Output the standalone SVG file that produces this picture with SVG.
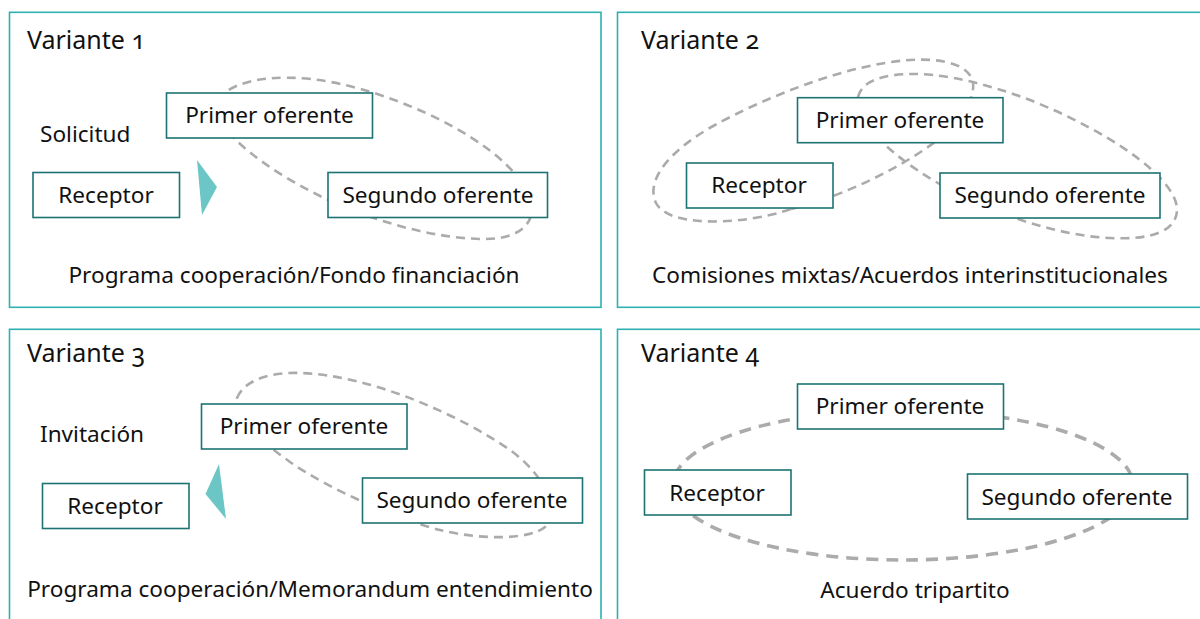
<svg xmlns="http://www.w3.org/2000/svg" width="1200" height="619" viewBox="0 0 1200 619">
<style>
.panel{fill:#fff;stroke:#2fb0b1;stroke-width:1.6}
.node{fill:#fff;stroke:#1d7373;stroke-width:1.6}
.t{font-family:"Noto Sans","Liberation Sans",sans-serif;font-size:22.6px;fill:#111}
.c{text-anchor:middle}
.h{font-size:25px;font-variant-numeric:oldstyle-nums;font-feature-settings:"onum"}
.d{fill:none;stroke:#ababab;stroke-width:2.6;stroke-dasharray:9 6}
.d4{fill:none;stroke:#ababab;stroke-width:3.6;stroke-dasharray:12 8}
.tri{fill:#6cc6c6}
</style>
<rect width="1200" height="619" fill="#fff"/>
<g id="panels">
<rect class="panel" x="9.5" y="12.3" width="591.5" height="295"/>
<rect class="panel" x="617.5" y="12.3" width="600" height="295"/>
<rect class="panel" x="9.5" y="329.3" width="591.5" height="310"/>
<rect class="panel" x="617.5" y="329.3" width="600" height="310"/>
</g>
<g id="connectors">
<path class="d" d="M218,100 C232,78 290,68 364,90 C420,106 490,140 520,180 C545,212 530,240 482,239 C430,238 370,220 320,196 C280,176 240,150 218,120 C212,112 213,106 218,100 Z"/>
<path class="d" d="M791,209 C830,200 890,175 935,142 C960,122 975,100 973,83 C970,65 945,58 910,60 C850,64 770,95 715,125 C670,150 645,180 656,203 C665,220 700,224 740,220 C760,218 780,213 791,209 Z"/>
<path class="d" d="M858,97 C862,80 885,74 914,74 C960,74 1030,95 1090,128 C1140,155 1175,185 1177,208 C1178,232 1150,240 1110,238 C1060,236 1000,215 960,195 C930,180 900,160 880,140 C865,125 855,110 858,97 Z"/>
<path class="d" d="M237,398 C245,378 275,372 300,373 C370,375 460,415 510,450 C545,475 560,510 545,527 C530,540 480,540 440,530 C400,520 330,490 290,462 C260,440 232,420 237,398 Z"/>
<ellipse class="d4" cx="903" cy="485" rx="230" ry="75"/>
<polygon class="tri" points="197,160 217,187 202,215"/>
<polygon class="tri" points="219,464 205.5,494 226,519"/>
</g>
<g id="v1">
<text class="t h" x="27" y="49">Variante 1</text>
<text class="t" x="40" y="142">Solicitud</text>
<text class="t c" x="294" y="283">Programa cooperación/Fondo financiación</text>
</g>
<g id="v1-primer"><rect class="node" x="166.5" y="93" width="206" height="45"/><text class="t c" x="269.5" y="123">Primer oferente</text></g>
<g id="v1-receptor"><rect class="node" x="33" y="172.5" width="146.5" height="45"/><text class="t c" x="106" y="203">Receptor</text></g>
<g id="v1-segundo"><rect class="node" x="328" y="172.5" width="219.5" height="45"/><text class="t c" x="438" y="203">Segundo oferente</text></g>
<g id="v2">
<text class="t h" x="641" y="49">Variante 2</text>
<text class="t c" x="910" y="283">Comisiones mixtas/Acuerdos interinstitucionales</text>
</g>
<g id="v2-primer"><rect class="node" x="797.5" y="97.7" width="205.5" height="45"/><text class="t c" x="900" y="128">Primer oferente</text></g>
<g id="v2-receptor"><rect class="node" x="686.5" y="163" width="146.5" height="45"/><text class="t c" x="759" y="193">Receptor</text></g>
<g id="v2-segundo"><rect class="node" x="940" y="173" width="220" height="45"/><text class="t c" x="1050" y="203">Segundo oferente</text></g>
<g id="v3">
<text class="t h" x="27" y="362">Variante 3</text>
<text class="t" x="40" y="442">Invitación</text>
<text class="t c" x="310" y="597">Programa cooperación/Memorandum entendimiento</text>
</g>
<g id="v3-primer"><rect class="node" x="201.5" y="404" width="205.5" height="45"/><text class="t c" x="304" y="434">Primer oferente</text></g>
<g id="v3-receptor"><rect class="node" x="42.5" y="483.5" width="146.5" height="45"/><text class="t c" x="115" y="514">Receptor</text></g>
<g id="v3-segundo"><rect class="node" x="362.5" y="478" width="220" height="45"/><text class="t c" x="472" y="508">Segundo oferente</text></g>
<g id="v4">
<text class="t h" x="641" y="362">Variante 4</text>
<text class="t c" x="915" y="598">Acuerdo tripartito</text>
</g>
<g id="v4-primer"><rect class="node" x="797.5" y="384" width="206" height="45"/><text class="t c" x="900" y="414">Primer oferente</text></g>
<g id="v4-receptor"><rect class="node" x="644.5" y="470" width="146.5" height="45"/><text class="t c" x="717" y="501">Receptor</text></g>
<g id="v4-segundo"><rect class="node" x="967.5" y="474" width="220" height="45"/><text class="t c" x="1077" y="505">Segundo oferente</text></g>
</svg>
